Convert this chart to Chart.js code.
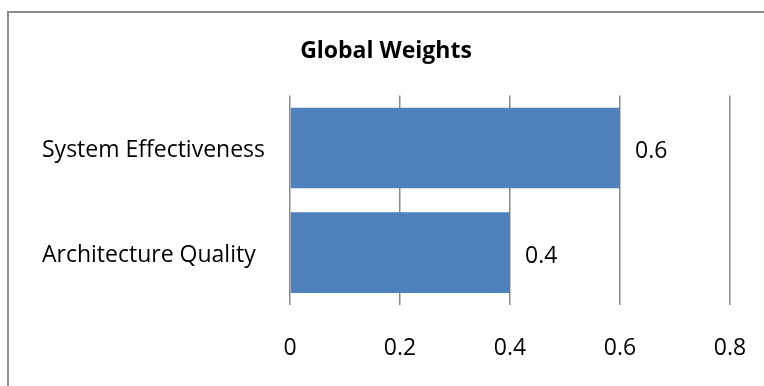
<!DOCTYPE html>
<html>
<head>
<meta charset="utf-8">
<script src="https://cdn.jsdelivr.net/npm/chart.js@4/dist/chart.umd.min.js"></script>
<style>
  html, body { margin: 0; padding: 0; background: #fff; overflow: hidden; }
  #wrap { position: relative; width: 764px; height: 386px; overflow: hidden; }
  #chart { display: block; }
  #frame { position: absolute; left: 7px; top: 11px; width: 800px; height: 400px;
           border-left: 2px solid #8c8c8c; border-top: 2px solid #8c8c8c; pointer-events: none; }
</style>
</head>
<body>
<div id="wrap">
  <canvas id="chart" width="764" height="386"></canvas>
  <div id="frame"></div>
</div>
<script>
var categories = ['System Effectiveness', 'Architecture Quality'];
var weights = [0.6, 0.4];
var tickValues = [0, 0.2, 0.4, 0.6, 0.8];

var fontFamily = "'Open Sans', 'Noto Sans', sans-serif";

// draws the value next to the end of each bar
var valueLabels = {
    id: 'valueLabels',
    afterDatasetsDraw: function(chart) {
        var ctx = chart.ctx;
        var meta = chart.getDatasetMeta(0);
        ctx.save();
        ctx.font = '23px ' + fontFamily;
        ctx.fillStyle = '#000';
        ctx.textAlign = 'left';
        ctx.textBaseline = 'middle';
        meta.data.forEach(function(bar, i) {
            ctx.fillText(String(weights[i]), bar.x + 15, bar.y + 4);
        });
        ctx.restore();
    }
};

var ctx = document.getElementById('chart').getContext('2d');
var barChart = new Chart(ctx, {
    type: 'bar',
    data: {
        labels: categories,
        datasets: [{
            data: weights,
            backgroundColor: '#4F81BD',
            barPercentage: 0.77,
            categoryPercentage: 1
        }]
    },
    options: {
        indexAxis: 'y',
        responsive: false,
        animation: false,
        layout: { padding: { left: 42, right: 34, top: 0, bottom: 24 } },
        plugins: {
            legend: { display: false },
            tooltip: { enabled: false },
            title: {
                display: true,
                text: 'Global Weights',
                color: '#000',
                font: { family: fontFamily, size: 23, weight: 'bold', lineHeight: 1.2 },
                padding: { top: 38, bottom: 30 }
            }
        },
        scales: {
            x: {
                min: 0,
                max: 0.8,
                afterBuildTicks: function(axis) {
                    axis.ticks = tickValues.map(function(v) { return { value: v }; });
                },
                afterFit: function(axis) {
                    axis.height = 57;
                    axis.paddingLeft = 0;
                    axis.paddingRight = 0;
                },
                grid: { color: '#8a8a8a', lineWidth: 1.5, drawTicks: false },
                border: { display: false },
                ticks: {
                    color: '#000',
                    padding: 30,
                    font: { family: fontFamily, size: 23, lineHeight: 1.2 },
                    callback: function(v) { return String(Math.round(v * 10) / 10); }
                }
            },
            y: {
                grid: { display: false },
                border: { display: false },
                afterFit: function(axis) { axis.width = 248; },
                ticks: {
                    color: '#000',
                    crossAlign: 'far',
                    labelOffset: 3,
                    font: { family: fontFamily, size: 23 }
                }
            }
        }
    },
    plugins: [valueLabels]
});
</script>
</body>
</html>
